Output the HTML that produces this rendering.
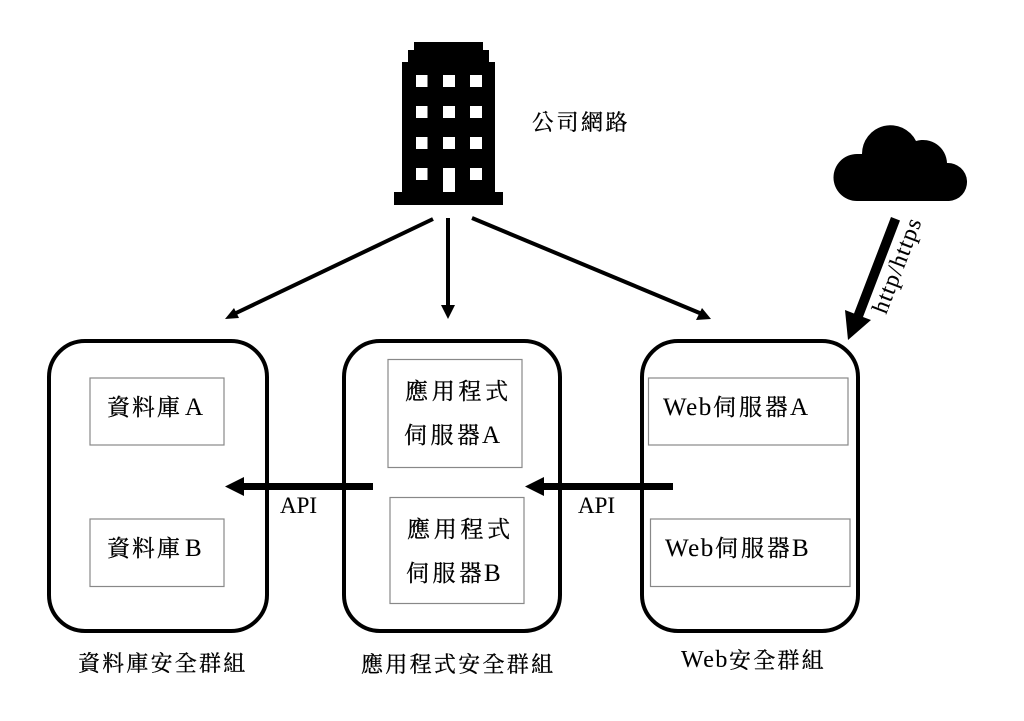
<!DOCTYPE html>
<html><head><meta charset="utf-8"><style>
html,body{margin:0;padding:0;background:#fff;width:1024px;height:721px;overflow:hidden}
svg{display:block}
text{font-family:"Liberation Serif","Noto Serif CJK TC","Noto Serif CJK SC",serif;fill:#000;stroke:#000;stroke-width:.3px}
.c{font-size:23px}
.l{font-size:25px;stroke-width:.1px}
.g{font-size:22px}
</style></head><body>
<svg width="1024" height="721" viewBox="0 0 1024 721" xmlns="http://www.w3.org/2000/svg">
<rect width="1024" height="721" fill="#fff"/>
<!-- building -->
<path d="M414 42H483V50H489V62H495V192H503V205H394V192H402V62H408V50H414Z" fill="#000"/>
<g fill="#fff">
<rect x="416" y="75" width="11.500" height="12"/><rect x="443" y="75" width="12" height="12"/><rect x="470" y="75" width="12" height="12"/>
<rect x="416" y="106" width="11.500" height="12"/><rect x="443" y="106" width="12" height="12"/><rect x="470" y="106" width="12" height="12"/>
<rect x="416" y="137" width="11.500" height="12"/><rect x="443" y="137" width="12" height="12"/><rect x="470" y="137" width="12" height="12"/>
<rect x="416" y="168" width="11.500" height="12"/><rect x="443" y="168" width="12" height="24"/><rect x="470" y="168" width="12" height="12"/>
</g>
<text x="532" y="130" class="g" style="letter-spacing:2.500px">公司網路</text>
<!-- cloud -->
<path d="M857 201A23.500 23.500 0 0 1 857 154C859 154 861 154 862 154A28.500 28.500 0 0 1 916 141A24 24 0 0 1 947 163A19 19 0 0 1 949 201Z" fill="#000"/>
<!-- cloud arrow -->
<path d="M891 217L900 220.500L863 317L871 320L848 340L845 310L854 313.500Z" fill="#000"/>
<text transform="translate(886 315) rotate(-69)" style="font-size:23.500px;letter-spacing:1.200px;stroke-width:.1px">http/https</text>
<!-- top arrows -->
<g stroke="#000" stroke-width="4" fill="none">
<path d="M433 219L234 314"/><path d="M448 218V306"/><path d="M472 218L702 314"/>
</g>
<path d="M225 319L234 308L239 318Z M441 305H455L448 319Z M711 319L702 308L696 320Z" fill="#000"/>
<!-- groups -->
<g fill="none" stroke="#000" stroke-width="4">
<rect x="49" y="341" width="218" height="290" rx="36"/>
<rect x="344" y="341" width="216" height="290" rx="36"/>
<rect x="642" y="341" width="216" height="290" rx="36"/>
</g>
<!-- inner boxes -->
<g fill="#fff" stroke="#888" stroke-width="1.200">
<rect x="90" y="378" width="134" height="67"/>
<rect x="90" y="519" width="134" height="67.500"/>
<rect x="388" y="359.500" width="134" height="108"/>
<rect x="390" y="497.500" width="134" height="106"/>
<rect x="648.500" y="378" width="199.500" height="67"/>
<rect x="650.500" y="519" width="199.500" height="67.500"/>
</g>
<!-- API arrows -->
<path d="M373 483V490H244V496L225 486.500L244 477V483Z M673 483V490H544V496L525 486.500L544 477V483Z" fill="#000"/>
<text x="280" y="513" style="font-size:23px;stroke-width:.1px">API</text>
<text x="578" y="513" style="font-size:23px;stroke-width:.1px">API</text>
<!-- labels -->
<text x="107" y="415" class="c" style="letter-spacing:2px">資料庫</text><text x="185" y="415" class="l">A</text>
<text x="107" y="556" class="c" style="letter-spacing:2px">資料庫</text><text x="185" y="556" class="l">B</text>
<text x="405" y="399" class="c" style="letter-spacing:3.700px">應用程式</text>
<text x="404" y="443" class="c" style="letter-spacing:3.500px">伺服器</text><text x="482" y="443" class="l">A</text>
<text x="407" y="537" class="c" style="letter-spacing:3.700px">應用程式</text>
<text x="406" y="581" class="c" style="letter-spacing:3.500px">伺服器</text><text x="484" y="581" class="l">B</text>
<text x="663" y="415" class="l" style="letter-spacing:1.500px">Web</text><text x="713" y="415" class="c" style="letter-spacing:3px">伺服器</text><text x="790" y="415" class="l">A</text>
<text x="665" y="556" class="l" style="letter-spacing:1.500px">Web</text><text x="715" y="556" class="c" style="letter-spacing:3px">伺服器</text><text x="792" y="556" class="l">B</text>
<text x="78" y="671" class="g" style="letter-spacing:2.200px">資料庫安全群組</text>
<text x="361" y="672" class="g" style="letter-spacing:2.300px">應用程式安全群組</text>
<text x="681" y="667" style="font-size:24px;letter-spacing:1.500px;stroke-width:.1px">Web</text><text x="729" y="668" class="g" style="letter-spacing:2.200px">安全群組</text>
</svg>
</body></html>
